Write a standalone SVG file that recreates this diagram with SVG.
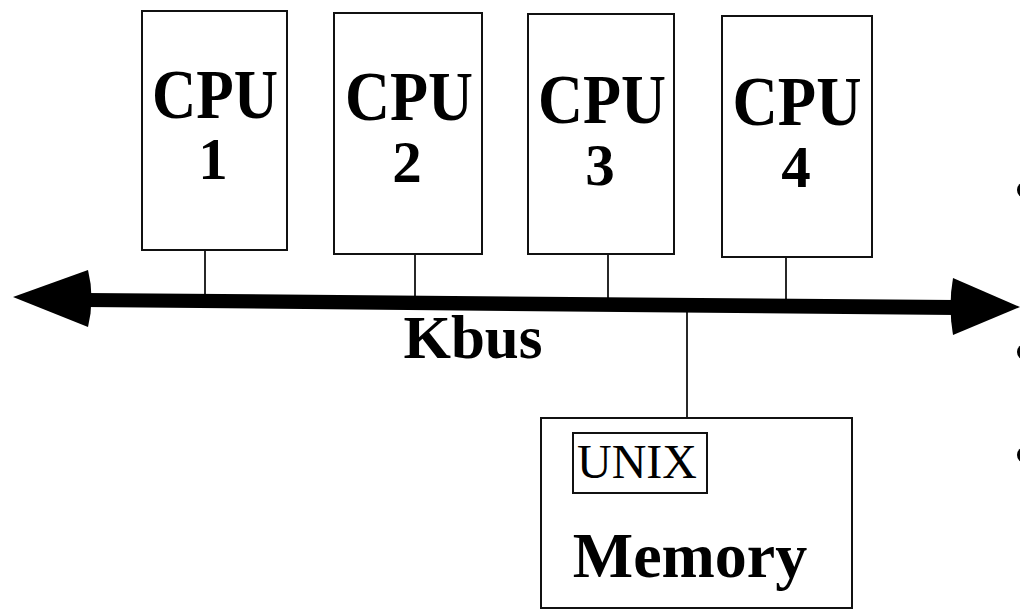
<svg xmlns="http://www.w3.org/2000/svg" width="1020" height="610" viewBox="0 0 1020 610">
  <style>
    .box { fill: #fff; stroke: #111; stroke-width: 2; }
    .wire { stroke: #111; stroke-width: 1.8; fill: none; }
    .big { font-family: "Liberation Serif", "Times New Roman", serif; font-weight: bold; fill: #000; text-anchor: middle; }
    .reg { font-family: "Liberation Serif", "Times New Roman", serif; fill: #000; text-anchor: middle; }
  </style>
  <rect width="1020" height="610" fill="#fff"/>

  <!-- bus and drops -->
  <g id="connectors">
    <line class="wire" x1="205" y1="250" x2="205" y2="294"/>
    <line class="wire" x1="415" y1="254" x2="415" y2="296"/>
    <line class="wire" x1="608" y1="254" x2="608" y2="298"/>
    <line class="wire" x1="786" y1="257" x2="786" y2="299"/>
    <line class="wire" x1="687" y1="308" x2="687" y2="418"/>
    <!-- Kbus: thick shaft with arrowheads at both ends -->
    <polygon points="86,293 956,300 956,315 86,307" fill="#000"/>
    <path d="M13,297 L88,270 Q95,298 88,327 Z" fill="#000"/>
    <path d="M1020,307 L953,278 Q948,306 953,335 Z" fill="#000"/>
  </g>

  <g id="kbus-label">
    <text class="big" x="473" y="358" font-size="61">Kbus</text>
  </g>

  <g id="cpu1">
    <rect class="box" x="142" y="11" width="145" height="239"/>
    <text class="big" x="215" y="118" font-size="69" textLength="126" lengthAdjust="spacingAndGlyphs">CPU</text>
    <text class="big" x="213" y="179" font-size="59">1</text>
  </g>
  <g id="cpu2">
    <rect class="box" x="334" y="13" width="148" height="241"/>
    <text class="big" x="409" y="120" font-size="69" textLength="128" lengthAdjust="spacingAndGlyphs">CPU</text>
    <text class="big" x="407" y="182" font-size="59">2</text>
  </g>
  <g id="cpu3">
    <rect class="box" x="528" y="14" width="146" height="240"/>
    <text class="big" x="602" y="123" font-size="69" textLength="128" lengthAdjust="spacingAndGlyphs">CPU</text>
    <text class="big" x="600" y="185" font-size="59">3</text>
  </g>
  <g id="cpu4">
    <rect class="box" x="722" y="16" width="150" height="241"/>
    <text class="big" x="797" y="125" font-size="69" textLength="129" lengthAdjust="spacingAndGlyphs">CPU</text>
    <text class="big" x="796" y="187" font-size="59">4</text>
  </g>

  <g id="memory">
    <rect class="box" x="541" y="418" width="311" height="190"/>
    <rect class="box" x="573" y="433" width="134" height="60" stroke-width="1.8"/>
    <text class="reg" x="637" y="478" font-size="48" textLength="120" lengthAdjust="spacingAndGlyphs">UNIX</text>
    <text class="big" x="690" y="577" font-size="64">Memory</text>
  </g>

  <!-- list bullets running off the right edge -->
  <g id="bullets" fill="#000">
    <circle cx="1025" cy="190" r="8"/>
    <circle cx="1025" cy="352" r="8"/>
    <circle cx="1025" cy="455" r="8"/>
  </g>
</svg>
